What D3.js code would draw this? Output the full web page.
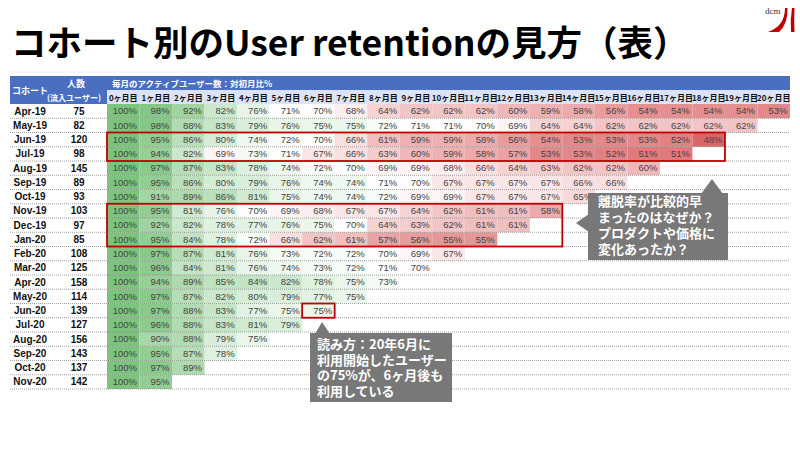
<!DOCTYPE html>
<html>
<head>
<meta charset="utf-8">
<script src="https://cdn.jsdelivr.net/npm/d3@7"></script>
<style>
  body { margin: 0; background: #fff; }
  svg { display: block; }
</style>
</head>
<body>
<div id="chart"></div>
<script>
// cohort rows and new-user counts
const cohorts = ["Apr-19", "May-19", "Jun-19", "Jul-19", "Aug-19", "Sep-19", "Oct-19", "Nov-19", "Dec-19", "Jan-20",
  "Feb-20", "Mar-20", "Apr-20", "May-20", "Jun-20", "Jul-20", "Aug-20", "Sep-20", "Oct-20", "Nov-20"];
const users = [75, 82, 120, 98, 145, 89, 93, 103, 97, 85, 108, 125, 158, 114, 139, 127, 156, 143, 137, 142];

const monthLabels = ["0ヶ月目", "1ヶ月目", "2ヶ月目", "3ヶ月目", "4ヶ月目", "5ヶ月目", "6ヶ月目", "7ヶ月目", "8ヶ月目", "9ヶ月目",
  "10ヶ月目", "11ヶ月目", "12ヶ月目", "13ヶ月目", "14ヶ月目", "15ヶ月目", "16ヶ月目", "17ヶ月目", "18ヶ月目", "19ヶ月目", "20ヶ月目"];

// retention % per cohort, month 0 onwards
const retention = [
  [100, 98, 92, 82, 76, 71, 70, 68, 64, 62, 62, 62, 60, 59, 58, 56, 54, 54, 54, 54, 53],
  [100, 98, 88, 83, 79, 76, 75, 75, 72, 71, 71, 70, 69, 64, 64, 62, 62, 62, 62, 62],
  [100, 95, 86, 80, 74, 72, 70, 66, 61, 59, 59, 58, 56, 54, 53, 53, 53, 52, 48],
  [100, 94, 82, 69, 73, 71, 67, 66, 63, 60, 59, 58, 57, 53, 53, 52, 51, 51],
  [100, 97, 87, 83, 78, 74, 72, 70, 69, 69, 68, 66, 64, 63, 62, 62, 60],
  [100, 95, 86, 80, 79, 76, 74, 74, 71, 70, 67, 67, 67, 67, 66, 66],
  [100, 91, 89, 86, 81, 75, 74, 74, 72, 69, 69, 67, 67, 67, 65],
  [100, 95, 81, 76, 70, 69, 68, 67, 67, 64, 62, 61, 61, 58],
  [100, 92, 82, 78, 77, 76, 75, 70, 64, 63, 62, 61, 61],
  [100, 95, 84, 78, 72, 66, 62, 61, 57, 56, 55, 55],
  [100, 97, 87, 81, 76, 73, 72, 72, 70, 69, 67],
  [100, 96, 84, 81, 76, 74, 73, 72, 71, 70],
  [100, 94, 89, 85, 84, 82, 78, 75, 73],
  [100, 97, 87, 82, 80, 79, 77, 75],
  [100, 97, 88, 83, 77, 75, 75],
  [100, 96, 88, 83, 81, 79],
  [100, 90, 88, 79, 75],
  [100, 95, 87, 78],
  [100, 97, 89],
  [100, 95]
];

// red outlines: cohort range and month range
const highlights = [
  { from: "Jun-19", to: "Jul-19", m0: 0, m1: 18 },
  { from: "Nov-19", to: "Jan-20", m0: 0, m1: 13 },
  { from: "Jun-20", to: "Jun-20", m0: 6, m1: 6 }
];

const note1 = ["離脱率が比較的早", "まったのはなぜか？", "プロダクトや価格に", "変化あったか？"];
const note2 = ["読み方：20年6月に", "利用開始したユーザー", "の75%が、6ヶ月後も", "利用している"];

const width = 800, height = 450;
const jp = "'Noto Sans CJK JP', 'Noto Sans', sans-serif";
const lat = "'Liberation Sans', Arial, sans-serif";

const svg = d3.select("#chart").append("svg")
  .attr("width", width)
  .attr("height", height);

// title
svg.append("text")
  .attr("x", 11)
  .attr("y", 56)
  .style("font-family", jp)
  .style("font-weight", 700)
  .style("font-size", "35.5px")
  .attr("fill", "#000")
  .text("コホート別のUser retentionの見方（表）");

svg.append("line")
  .attr("x1", 10).attr("x2", 790)
  .attr("y1", 72).attr("y2", 72)
  .attr("stroke", "#eeeeee");

// logo
svg.append("text")
  .attr("x", 765).attr("y", 14)
  .style("font-family", "'Liberation Serif', serif")
  .style("font-size", "9px")
  .attr("fill", "#333")
  .text("dcm");
svg.append("path")
  .attr("d", "M785 8 Q785 26 768 32 L779 32 Q788 24 787.5 8 Z")
  .attr("fill", "#c00000");
svg.append("path")
  .attr("d", "M792 8 Q790 20 791 32 L794.5 32 Q794 20 794.5 8 Z")
  .attr("fill", "#c00000");

const tableLeft = 10, tableRight = 790;
const headTop = 76, headMid = 90, headBottom = 104, tableBottom = 389;

const x = d3.scaleBand()
  .domain(monthLabels)
  .range([107, tableRight]);

const y = d3.scaleBand()
  .domain(cohorts)
  .range([headBottom, tableBottom]);

const color = d3.scaleLinear()
  .domain([48, 70.5, 100])
  .range(["#db6668", "#ffffff", "#7cc37d"]);

// header backgrounds
svg.append("rect")
  .attr("x", tableLeft).attr("y", headTop)
  .attr("width", tableRight - tableLeft).attr("height", headMid - headTop)
  .attr("fill", "#4a6fc1");
svg.append("rect")
  .attr("x", tableLeft).attr("y", headMid)
  .attr("width", x.range()[0] - tableLeft).attr("height", headBottom - headMid)
  .attr("fill", "#4a6fc1");
svg.append("rect")
  .attr("x", x.range()[0]).attr("y", headMid)
  .attr("width", tableRight - x.range()[0]).attr("height", headBottom - headMid)
  .attr("fill", "#dbe3f4");

const headText = svg.append("g")
  .style("font-family", jp)
  .style("font-weight", 700)
  .attr("fill", "#fff");
headText.append("text")
  .attr("x", 30).attr("y", 94)
  .attr("text-anchor", "middle")
  .style("font-size", "9px")
  .text("コホート");
headText.append("text")
  .attr("x", 76).attr("y", 87)
  .attr("text-anchor", "middle")
  .style("font-size", "9px")
  .text("人数");
headText.append("text")
  .attr("x", 74).attr("y", 101)
  .attr("text-anchor", "middle")
  .style("font-size", "8px")
  .text("(流入ユーザー)");
headText.append("text")
  .attr("x", 112).attr("y", 87)
  .style("font-size", "8.5px")
  .text("毎月のアクティブユーザー数：対初月比%");

svg.append("g")
  .selectAll("text")
  .data(monthLabels)
  .join("text")
  .attr("x", (d) => x(d) + x.bandwidth() / 2)
  .attr("y", 101)
  .attr("text-anchor", "middle")
  .style("font-family", jp)
  .style("font-weight", 700)
  .style("font-size", "8px")
  .attr("fill", "#111")
  .text((d) => d);

// cells
const cells = [];
retention.forEach((row, i) => {
  row.forEach((v, j) => {
    cells.push({ cohort: cohorts[i], month: monthLabels[j], value: v });
  });
});

svg.append("g")
  .selectAll("rect")
  .data(cells)
  .join("rect")
  .attr("x", (d) => x(d.month))
  .attr("y", (d) => y(d.cohort))
  .attr("width", x.bandwidth())
  .attr("height", y.bandwidth())
  .attr("fill", (d) => color(d.value));

svg.append("g")
  .selectAll("text")
  .data(cells)
  .join("text")
  .attr("x", (d) => x(d.month) + x.bandwidth() - 2.5)
  .attr("y", (d) => y(d.cohort) + y.bandwidth() / 2 + 3.3)
  .attr("text-anchor", "end")
  .style("font-family", lat)
  .style("font-size", "9.5px")
  .attr("fill", "#444")
  .text((d) => d.value + "%");

// row labels
svg.append("g")
  .selectAll("text")
  .data(cohorts)
  .join("text")
  .attr("x", 30)
  .attr("y", (d) => y(d) + y.bandwidth() / 2 + 3.5)
  .attr("text-anchor", "middle")
  .style("font-family", lat)
  .style("font-weight", 700)
  .style("font-size", "10px")
  .attr("fill", "#111")
  .text((d) => d);

svg.append("g")
  .selectAll("text")
  .data(users)
  .join("text")
  .attr("x", 79)
  .attr("y", (d, i) => y(cohorts[i]) + y.bandwidth() / 2 + 3.5)
  .attr("text-anchor", "middle")
  .style("font-family", lat)
  .style("font-weight", 700)
  .style("font-size", "10px")
  .attr("fill", "#111")
  .text((d) => d);

// dotted row separators
svg.append("g")
  .selectAll("line")
  .data(cohorts)
  .join("line")
  .attr("x1", tableLeft).attr("x2", tableRight)
  .attr("y1", (d) => y(d) + y.bandwidth())
  .attr("y2", (d) => y(d) + y.bandwidth())
  .attr("stroke", "#8a8a8a")
  .attr("stroke-width", 0.8)
  .attr("stroke-dasharray", "1,1");

// red outlines
svg.append("g")
  .selectAll("rect")
  .data(highlights)
  .join("rect")
  .attr("x", (d) => x(monthLabels[d.m0]))
  .attr("y", (d) => y(d.from))
  .attr("width", (d) => x(monthLabels[d.m1]) + x.bandwidth() - x(monthLabels[d.m0]))
  .attr("height", (d) => y(d.to) + y.bandwidth() - y(d.from))
  .attr("fill", "none")
  .attr("stroke", "#c00000")
  .attr("stroke-width", 1.8);

// callouts: one text element per box, lines as tspans
function callout(bx, by, bw, bh, pointer, lines, tx, ty, lh) {
  const g = svg.append("g");
  g.append("rect")
    .attr("x", bx).attr("y", by)
    .attr("width", bw).attr("height", bh)
    .attr("fill", "#787878");
  pointer.forEach((p) => {
    g.append("path").attr("d", p).attr("fill", "#787878");
  });
  g.append("text")
    .attr("y", ty)
    .style("font-family", jp)
    .style("font-weight", 700)
    .style("font-size", "13px")
    .attr("fill", "#fff")
    .selectAll("tspan")
    .data(lines)
    .join("tspan")
    .attr("x", tx)
    .attr("dy", (d, i) => (i === 0 ? 0 : lh))
    .text((d) => d);
}

callout(588, 193, 140, 67,
  ["M701 194 L712 179 L723 194 Z", "M589 214 L576 223 L589 232 Z"],
  note1, 598, 206, 16);

callout(310, 333, 142, 69,
  ["M315 334 L322 322 L330 334 Z"],
  note2, 317, 349, 15.7);
</script>
</body>
</html>
